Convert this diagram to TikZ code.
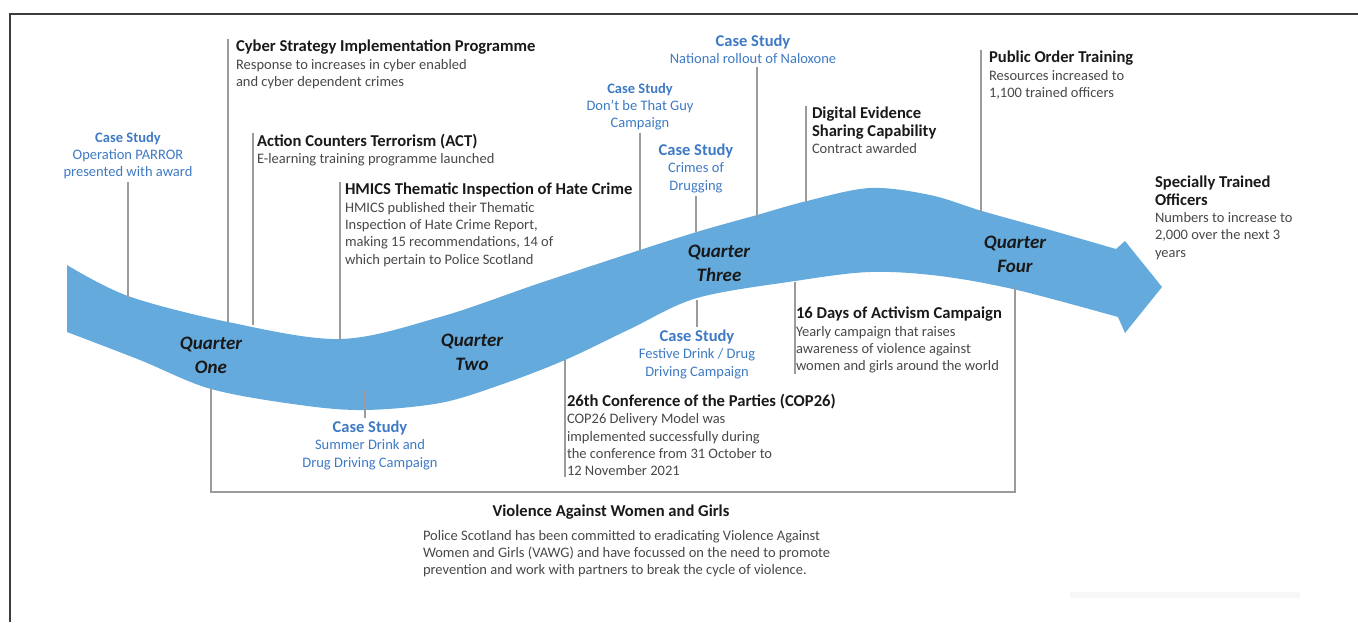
\documentclass[tikz,border=0pt]{standalone}
\usepackage{fontspec}
\setmainfont{Carlito}
\usetikzlibrary{positioning}

\definecolor{ribbon}{RGB}{100,170,220}
\definecolor{csblue}{RGB}{62,122,196}
\definecolor{bodygray}{RGB}{72,72,72}
\definecolor{titleblack}{RGB}{25,25,25}
\definecolor{tickgray}{RGB}{155,155,155}
\definecolor{framegray}{RGB}{60,60,60}

\newcommand{\ttl}[1]{{\fontsize{16.6}{17.4}\selectfont\bfseries\color{titleblack}#1}}
\newcommand{\csttl}[1]{{\fontsize{16.5}{17.4}\selectfont\bfseries #1}}
\newcommand{\cssmall}[1]{{\fontsize{14.5}{17.4}\selectfont\bfseries #1}}

\tikzset{
	x=1pt, y=-1pt, % one unit per pixel, rows counted downwards
	every node/.style={inner sep=0pt, outer sep=0pt},
	item/.style={align=left, anchor=north west, inner xsep=6pt, inner ysep=1pt, text=bodygray, font=\fontsize{14.5}{17.4}\selectfont}, % black milestone with a grey text
	casestudy/.style={align=center, anchor=north, inner ysep=3pt, text=csblue, font=\fontsize{14.5}{17.4}\selectfont}, % blue case study
	quarter/.style={align=center, inner ysep=15pt, text=titleblack, font=\fontsize{19}{24}\selectfont\bfseries\itshape},
	tick/.style={draw=tickgray, line width=1.2pt}, % thin grey leader line
}

\begin{document}
\begin{tikzpicture}
	\useasboundingbox (0,0) rectangle (1358,622);
	% frame
	\draw[framegray, line width=2pt] (10,622) -- (10,14) -- (1358,14);
	\fill[gray!6] (1070,592) rectangle (1300,598);

	% the ribbon
	\fill[ribbon] plot[smooth, tension=0.55] coordinates {(67,265) (128,296) (228,322) (340,339) (440,317) (540,283) (640,250) (700,231) (757,215) (807,201) (870,188) (930,195) (982,211) (1050,230) (1116,249)}
		-- (1125,241) -- (1162,287) -- (1125,333)
		-- plot[smooth, tension=0.55] coordinates {(1118,317) (1017,290) (940,276) (870,272) (795,281) (697,298) (630,329) (565,360) (500,385) (440,403) (365,410) (300,405) (211,389) (140,360) (67,332)} -- cycle;

	% where the leader lines meet the ribbon
	\coordinate (parrorband) at (128,298);
	\coordinate (cyberband) at (228,322);
	\coordinate (actband) at (253,325);
	\coordinate (hmicsband) at (340,340);
	\coordinate (guyband) at (640,250);
	\coordinate (druggingband) at (696,232);
	\coordinate (naloxoneband) at (757,217);
	\coordinate (digitalband) at (806,202);
	\coordinate (publicband) at (981,212);
	\coordinate (summerband) at (365,390);
	\coordinate (festiveband) at (697,300);
	\coordinate (copband) at (565,360);
	\coordinate (daysband) at (795,282);
	\coordinate (vawgbar) at (611,492);

	% quarters
	\node[quarter] (q1) at (211,355) {Quarter\\One};
	\node[quarter] (q2) at (472,352) {Quarter\\Two};
	\node[quarter] (q3) at (719,263) {Quarter\\Three};
	\node[quarter] (q4) at (1015,254) {Quarter\\Four};

	% case studies
	\node[casestudy] (parror) at (128,129) {\cssmall{Case Study}\\Operation PARROR\\presented with award};
	\node[casestudy] (guy) at (640,80) {\cssmall{Case Study}\\Don’t be That Guy\\Campaign};
	\node[casestudy] (drugging) at (696,141) {\csttl{Case Study}\\Crimes of\\Drugging};
	\node[casestudy] (naloxone) at (753,32) {\csttl{Case Study}\\National rollout of Naloxone};
	\node[casestudy, anchor=north] (summer) at (370,418) {\csttl{Case Study}\\Summer Drink and\\Drug Driving Campaign};
	\node[casestudy, anchor=north] (festive) at (697,327) {\csttl{Case Study}\\Festive Drink / Drug\\Driving Campaign};

	% milestones
	\node[item, inner xsep=8pt] (cyber) at (228,39) {\ttl{Cyber Strategy Implementation Programme}\\Response to increases in cyber enabled\\and cyber dependent crimes};
	\node[item, inner xsep=4pt] (act) at (253,133) {\ttl{Action Counters Terrorism (ACT)}\\E-learning training programme launched};
	\node[item, inner xsep=5pt] (hmics) at (340,182) {\ttl{HMICS Thematic Inspection of Hate Crime}\\HMICS published their Thematic\\Inspection of Hate Crime Report,\\making 15 recommendations, 14 of\\which pertain to Police Scotland};
	\node[item] (digital) at (806,106) {\ttl{Digital Evidence}\\\ttl{Sharing Capability}\\Contract awarded};
	\node[item, inner xsep=8pt] (public) at (981,50) {\ttl{Public Order Training}\\Resources increased to\\1,100 trained officers};
	\node[item] (officers) at (1149,175) {\ttl{Specially Trained}\\\ttl{Officers}\\Numbers to increase to\\2,000 over the next 3\\years};
	\node[item, inner xsep=2pt] (cop) at (565,393) {\ttl{26th Conference of the Parties (COP26)}\\COP26 Delivery Model was\\implemented successfully during\\the conference from 31 October to\\12 November 2021};
	\node[item, inner xsep=1pt] (days) at (795,306) {\ttl{16 Days of Activism Campaign}\\Yearly campaign that raises\\awareness of violence against\\women and girls around the world};

	% violence against women and girls
	\node[font=\fontsize{16.6}{17.4}\selectfont\bfseries, text=titleblack] (vawg) at (611,512) {Violence Against Women and Girls};
	\node[item, inner xsep=0pt] (vawgtext) at (423,529) {Police Scotland has been committed to eradicating Violence Against\\Women and Girls (VAWG) and have focussed on the need to promote\\prevention and work with partners to break the cycle of violence.};

	% leader lines
	\draw[tick] (parror.south) -- (parrorband);
	\draw[tick] (cyber.north west) -- (cyberband);
	\draw[tick] (act.north west) -- (actband);
	\draw[tick] (hmics.north west) -- (hmicsband);
	\draw[tick] (guy.south) -- (guyband);
	\draw[tick] (drugging.south) -- (druggingband);
	\draw[tick] (naloxoneband |- naloxone.south) -- (naloxoneband);
	\draw[tick] (digital.north west) -- (digitalband);
	\draw[tick] (public.north west) -- (publicband);
	\draw[tick] (summerband) -- (summerband |- summer.north);
	\draw[tick] (festiveband) -- (festive.north);
	\draw[tick] (copband) -- (cop.south west);
	\draw[tick] (daysband) -- (days.south west);
	\draw[tick] (q1.south) |- (vawgbar) -| (q4.south);
\end{tikzpicture}
\end{document}
